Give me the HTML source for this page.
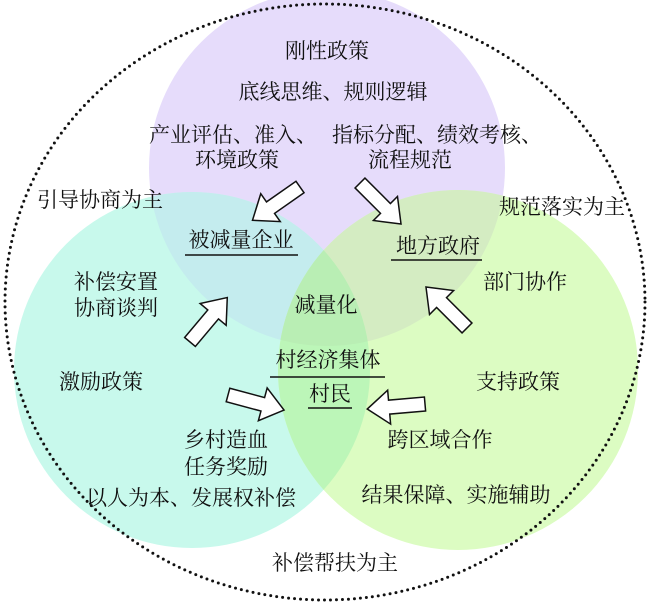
<!DOCTYPE html>
<html><head><meta charset="utf-8"><style>
html,body{margin:0;padding:0;background:#fff}
svg text{font-family:"Liberation Serif","Noto Serif CJK SC","Noto Sans CJK SC",serif;font-size:21px;fill:#111;text-anchor:middle}
</style></head><body>
<svg width="650" height="604" viewBox="0 0 650 604" xmlns="http://www.w3.org/2000/svg">
<defs>
<clipPath id="cp"><circle cx="327" cy="168" r="178"/></clipPath>
<clipPath id="cc"><circle cx="192" cy="370" r="178"/></clipPath>
<clipPath id="cg"><circle cx="458" cy="370" r="180"/></clipPath>
<path id="ar" d="M0,-7 L36,-7 L36,-17 L58,0 L36,17 L36,7 L0,7 Z" fill="#fff" stroke="#111" stroke-width="1.5"/>
</defs>
<rect width="650" height="604" fill="#fff"/>
<circle cx="327" cy="168" r="178" fill="#e6dcfb"/>
<circle cx="192" cy="370" r="178" fill="#c8f9ec"/>
<circle cx="458" cy="370" r="180" fill="#dcfcc2"/>
<g clip-path="url(#cp)">
<circle cx="192" cy="370" r="178" fill="#c4ecee"/>
<circle cx="458" cy="370" r="180" fill="#d4ecc2"/>
</g>
<g clip-path="url(#cc)"><circle cx="458" cy="370" r="180" fill="#bcf6b8"/></g>
<g clip-path="url(#cp)"><g clip-path="url(#cc)"><circle cx="458" cy="370" r="180" fill="#b9eeb4"/></g></g>
<ellipse cx="325" cy="302" rx="320" ry="298" fill="none" stroke="#111" stroke-width="3" stroke-linecap="round" stroke-dasharray="0,6"/>

<use href="#ar" transform="translate(300,187) rotate(145)"/>
<use href="#ar" transform="translate(360,183) rotate(45)"/>
<use href="#ar" transform="translate(190,342) rotate(-50)"/>
<use href="#ar" transform="translate(467,328) rotate(-135)"/>
<use href="#ar" transform="translate(228,395) rotate(15)"/>
<use href="#ar" transform="translate(425,404) rotate(175)"/>

<text x="327" y="58">刚性政策</text>
<text x="333" y="99">底线思维、规则逻辑</text>
<text x="233" y="142">产业评估、准入、</text>
<text x="237" y="167">环境政策</text>
<text x="437" y="142">指标分配、绩效考核、</text>
<text x="410" y="167">流程规范</text>
<text x="100" y="207">引导协商为主</text>
<text x="562" y="214">规范落实为主</text>
<text x="241" y="247">被减量企业</text>
<line x1="185" y1="255" x2="298" y2="255" stroke="#111" stroke-width="1.5"/>
<text x="438" y="253">地方政府</text>
<line x1="391" y1="260" x2="482" y2="260" stroke="#111" stroke-width="1.5"/>
<text x="116" y="289">补偿安置</text>
<text x="116" y="315">协商谈判</text>
<text x="525" y="289">部门协作</text>
<text x="326" y="312">减量化</text>
<text x="328" y="367">村经济集体</text>
<line x1="270" y1="377" x2="385" y2="377" stroke="#111" stroke-width="1.5"/>
<text x="330" y="401">村民</text>
<line x1="308" y1="408" x2="352" y2="408" stroke="#111" stroke-width="1.5"/>
<text x="101" y="389">激励政策</text>
<text x="518" y="389">支持政策</text>
<text x="226" y="447">乡村造血</text>
<text x="226" y="474">任务奖励</text>
<text x="440" y="447">跨区域合作</text>
<text x="191" y="505">以人为本、发展权补偿</text>
<text x="456" y="502">结果保障、实施辅助</text>
<text x="335" y="570">补偿帮扶为主</text>
</svg>
</body></html>
